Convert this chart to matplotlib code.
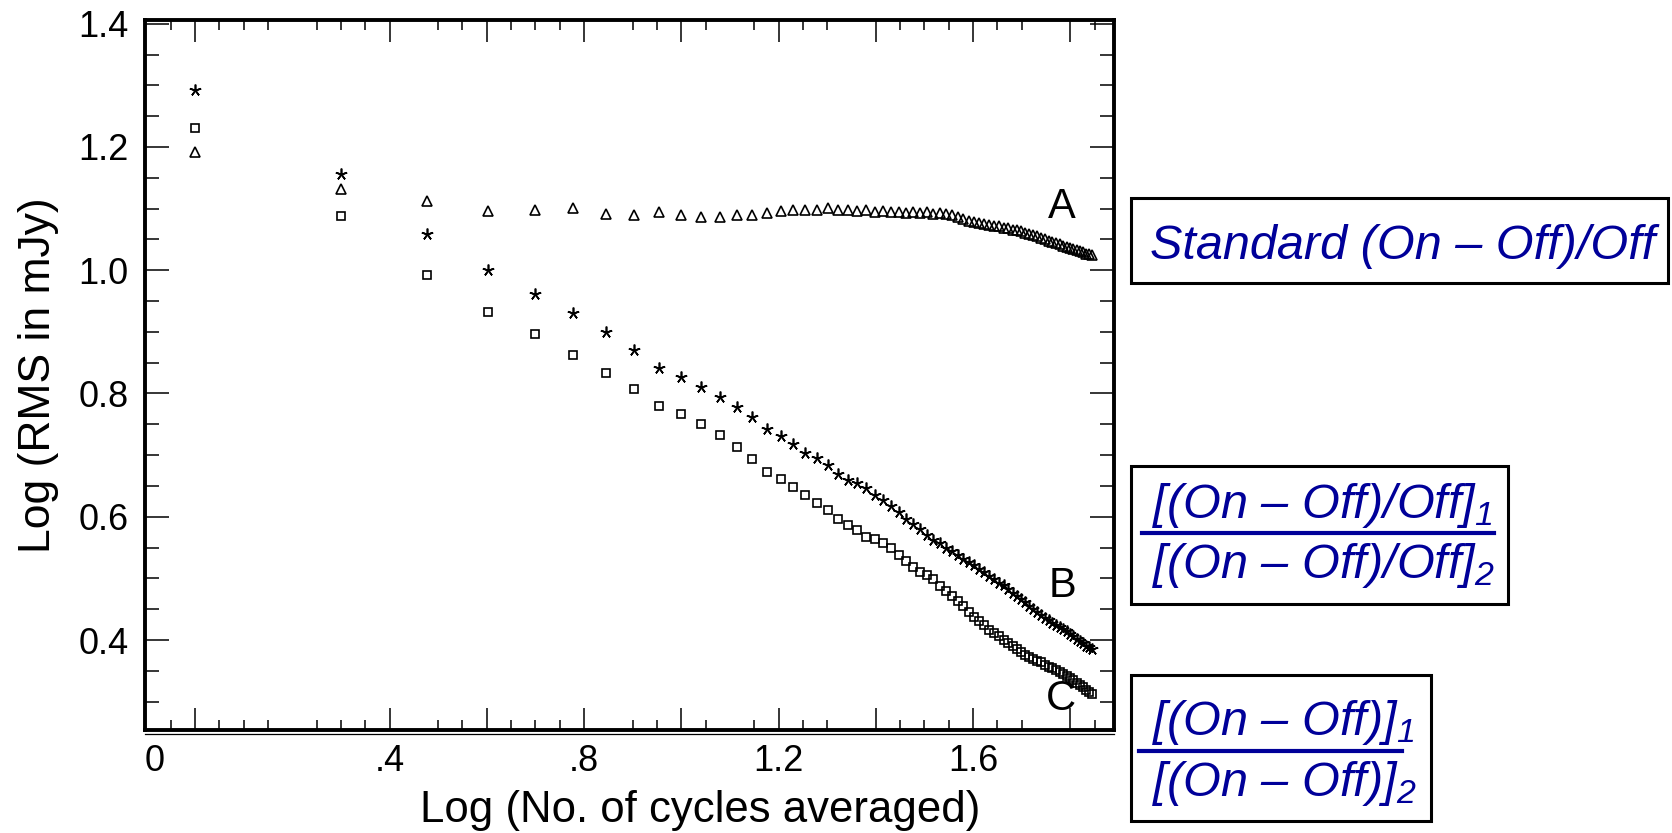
import numpy as np
import matplotlib
matplotlib.use("Agg")
import matplotlib.pyplot as plt
from matplotlib.transforms import ScaledTranslation
from matplotlib.patches import Rectangle
from matplotlib.lines import Line2D

plt.rcParams["font.family"] = ["Liberation Sans", "DejaVu Sans"]
plt.rcParams["mathtext.fontset"] = "custom"
plt.rcParams["mathtext.it"] = "Liberation Sans:italic"
plt.rcParams["mathtext.rm"] = "Liberation Sans:italic"

# ---------------- data ----------------
cycles = list(range(1, 71))   # number of cycles averaged

series_A = [1.192, 1.131, 1.112, 1.096, 1.098, 1.101, 1.091, 1.090, 1.095, 1.090,
            1.087, 1.087, 1.089, 1.089, 1.093, 1.096, 1.097, 1.097, 1.098, 1.101,
            1.097, 1.098, 1.096, 1.097, 1.095, 1.096, 1.094, 1.095, 1.093, 1.094,
            1.093, 1.094, 1.092, 1.093, 1.091, 1.089, 1.087, 1.083, 1.080, 1.078,
            1.077, 1.075, 1.074, 1.072, 1.071, 1.069, 1.068, 1.066, 1.065, 1.063,
            1.061, 1.059, 1.057, 1.055, 1.052, 1.050, 1.048, 1.046, 1.044, 1.042,
            1.040, 1.038, 1.036, 1.034, 1.033, 1.031, 1.029, 1.027, 1.026, 1.024]

series_B = [1.292, 1.156, 1.058, 1.000, 0.961, 0.931, 0.900, 0.870, 0.842, 0.827,
            0.811, 0.794, 0.778, 0.762, 0.742, 0.731, 0.718, 0.704, 0.695, 0.684,
            0.670, 0.659, 0.654, 0.646, 0.635, 0.627, 0.618, 0.608, 0.596, 0.588,
            0.580, 0.570, 0.563, 0.557, 0.550, 0.544, 0.538, 0.531, 0.526, 0.521,
            0.515, 0.510, 0.504, 0.499, 0.493, 0.489, 0.483, 0.477, 0.472, 0.466,
            0.461, 0.455, 0.450, 0.445, 0.440, 0.436, 0.432, 0.428, 0.425, 0.421,
            0.418, 0.414, 0.410, 0.406, 0.402, 0.398, 0.395, 0.391, 0.388, 0.385]

series_C = [1.231, 1.088, 0.993, 0.933, 0.897, 0.862, 0.833, 0.807, 0.780, 0.766,
            0.751, 0.732, 0.713, 0.693, 0.673, 0.662, 0.649, 0.635, 0.623, 0.611,
            0.597, 0.586, 0.578, 0.567, 0.564, 0.557, 0.549, 0.538, 0.528, 0.519,
            0.511, 0.506, 0.499, 0.487, 0.479, 0.471, 0.464, 0.455, 0.445, 0.437,
            0.431, 0.424, 0.417, 0.411, 0.406, 0.400, 0.395, 0.390, 0.385, 0.380,
            0.376, 0.372, 0.369, 0.366, 0.364, 0.360, 0.357, 0.354, 0.351, 0.348,
            0.345, 0.341, 0.338, 0.335, 0.331, 0.327, 0.323, 0.319, 0.316, 0.313]

series_names = ["A", "B", "C"]
x_tick_values = [0.0, 0.4, 0.8, 1.2, 1.6]
x_tick_labels = ["0", ".4", ".8", "1.2", "1.6"]
y_tick_values = [0.4, 0.6, 0.8, 1.0, 1.2, 1.4]
y_tick_labels = ["0.4", "0.6", "0.8", "1.0", "1.2", "1.4"]
x_label = "Log (No. of cycles averaged)"
y_label = "Log (RMS in mJy)"
legend_standard = "Standard (On \u2013 Off)/Off"
legend_B_num = "[(On \u2013 Off)/Off]$_1$"
legend_B_den = "[(On \u2013 Off)/Off]$_2$"
legend_C_num = "[(On \u2013 Off)]$_1$"
legend_C_den = "[(On \u2013 Off)]$_2$"

# ---------------- figure ----------------
W, H = 1672, 833
fig = plt.figure(figsize=(W / 100, H / 100), dpi=100)
fig.patch.set_facecolor("white")


def fx(px):
    return px / W


def fy(py):
    return 1 - py / H


ax = fig.add_axes([fx(145), fy(730), fx(1114) - fx(145), fy(20) - fy(730)])

x = np.log10(cycles)
ax.plot(x, series_A, linestyle="none", marker="^", ms=7, mfc="none",
        mec="black", mew=1.2)
ax.plot(x, series_B, linestyle="none", marker=(5, 2, 0), ms=8.5, mfc="none",
        mec="black", mew=1.2)
ax.plot(x, series_C, linestyle="none", marker="s", ms=5.5, mfc="none",
        mec="black", mew=1.2)

ax.set_xlim(-0.103, 1.890)
ax.set_ylim(0.254, 1.406)

# ticks
major_x = [0.0, 0.4, 0.6, 0.8, 1.0, 1.2, 1.4, 1.6, 1.8]
minor_x = [-0.05, 0.05, 0.1, 0.15, 0.25, 0.3, 0.35, 0.5, 0.55, 0.65, 0.7,
           0.75, 0.9, 0.95, 1.05, 1.15, 1.25, 1.3, 1.45, 1.5, 1.55, 1.65,
           1.7, 1.85]
lab = dict(zip(x_tick_values, x_tick_labels))
ax.set_xticks(major_x, [lab.get(v, "") for v in major_x])
ax.set_xticks(minor_x, minor=True)
ax.set_yticks(y_tick_values, y_tick_labels)
ax.set_yticks([0.3, 0.35, 0.45, 0.5, 0.55, 0.65, 0.7, 0.75, 0.85, 0.9, 0.95,
               1.05, 1.1, 1.15, 1.25, 1.3, 1.35], minor=True)

ax.tick_params(axis="x", which="major", direction="in", length=16, width=1.1,
               top=True, bottom=True, labelsize=26, pad=10)
ax.tick_params(axis="x", which="minor", direction="in", length=7.5, width=1.1,
               top=True, bottom=True)
ax.tick_params(axis="y", which="major", direction="in", length=17, width=1.1,
               left=True, right=True, labelsize=26, pad=12)
ax.tick_params(axis="y", which="minor", direction="in", length=10, width=1.1,
               left=True, right=True)

for s in ax.spines.values():
    s.set_linewidth(2.8)

# shift the "0" label to the left edge as in the original
ticks = ax.xaxis.get_major_ticks()
ticks[0].label1.set_transform(ticks[0].label1.get_transform() +
                              ScaledTranslation(-0.40, 0, fig.dpi_scale_trans))

# double line under bottom spine
ax.add_line(Line2D([0, 1], [0, 0], transform=ax.transAxes +
                   ScaledTranslation(0, -0.04, fig.dpi_scale_trans),
                   color="black", lw=0.9, clip_on=False))

ax.set_xlabel(x_label, fontsize=31.5, labelpad=8)
ax.xaxis.set_label_coords(0.573, -0.085)
ax.set_ylabel(y_label, fontsize=32, labelpad=14)

# series letters
for name, sx, sy in zip(series_names, [1062, 1063, 1061], [207, 586, 699]):
    fig.text(fx(sx), fy(sy), name, fontsize=30, ha="center", va="center")

# ---------------- legend boxes ----------------
blue = "#000099"


def box(x0, y0, x1, y1):
    fig.add_artist(Rectangle((fx(x0), fy(y1)), fx(x1) - fx(x0), fy(y0) - fy(y1),
                             transform=fig.transFigure, fill=False,
                             edgecolor="black", lw=2.2))


box(1131, 198, 1668, 283)
fig.text(fx(1403), fy(259), legend_standard, fontsize=35, style="italic",
         color=blue, ha="center", va="baseline")

box(1131, 466, 1508, 604)
fig.text(fx(1152), fy(518), legend_B_num, fontsize=35, style="italic",
         color=blue, ha="left", va="baseline")
fig.text(fx(1152), fy(578), legend_B_den, fontsize=35, style="italic",
         color=blue, ha="left", va="baseline")
fig.add_artist(Line2D([fx(1142), fx(1494)], [fy(533), fy(533)],
                      transform=fig.transFigure, color=blue, lw=3))

box(1131, 675, 1431, 821)
fig.text(fx(1152), fy(735), legend_C_num, fontsize=35, style="italic",
         color=blue, ha="left", va="baseline")
fig.text(fx(1152), fy(796), legend_C_den, fontsize=35, style="italic",
         color=blue, ha="left", va="baseline")
fig.add_artist(Line2D([fx(1139), fx(1402)], [fy(751), fy(751)],
                      transform=fig.transFigure, color=blue, lw=3))

fig.savefig("out.png", dpi=100)
